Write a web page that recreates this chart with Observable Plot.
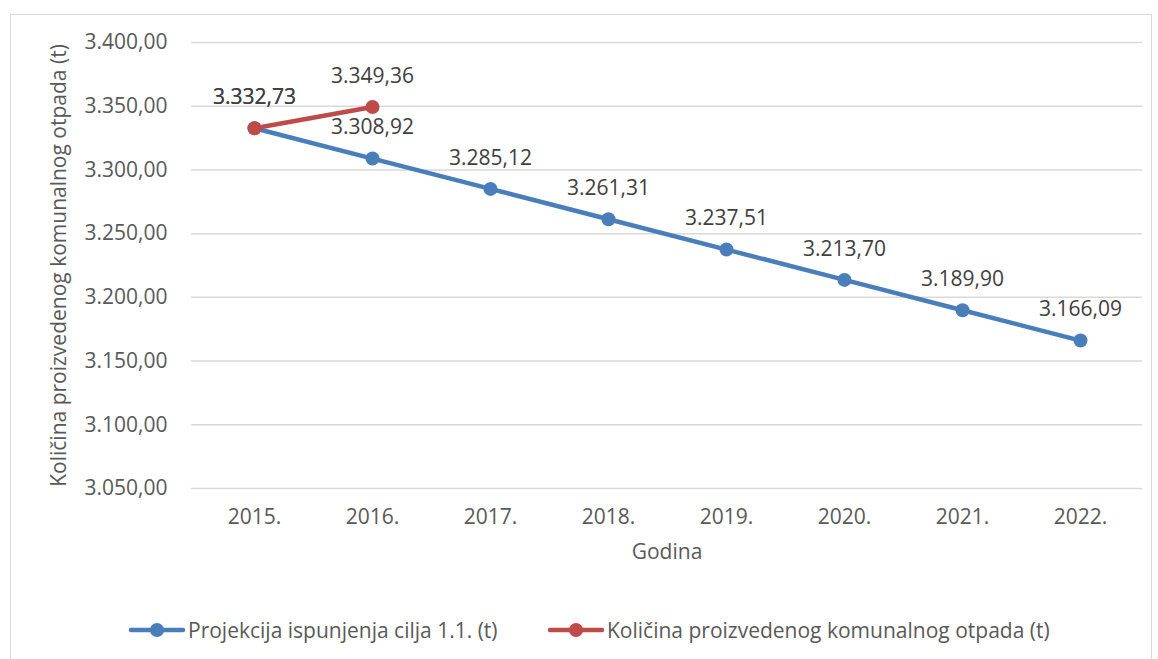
<!DOCTYPE html>
<html><head><meta charset="utf-8">
<script src="https://cdn.jsdelivr.net/npm/d3@7"></script>
<script src="https://cdn.jsdelivr.net/npm/@observablehq/plot@0.6"></script>
<style>
html,body{margin:0;padding:0;background:#fff;}
body{width:1158px;height:659px;position:relative;overflow:hidden;font-family:"Open Sans",sans-serif;}
#frame{position:absolute;left:10px;top:14px;width:1142px;height:700px;border:1.5px solid #d9d9d9;box-sizing:border-box;}
#chart{position:absolute;left:0;top:0;}
#legend{position:absolute;top:616px;left:0;width:1158px;height:28px;font-size:21px;color:#595959;}
.item{position:absolute;top:0;display:flex;align-items:center;white-space:nowrap;}
</style></head>
<body>
<div id="frame"></div>
<div id="chart"></div>
<div id="legend"></div>
<script>
const years = ["2015.","2016.","2017.","2018.","2019.","2020.","2021.","2022."];
const projekcija = [3332.73,3308.92,3285.12,3261.31,3237.51,3213.70,3189.90,3166.09];
const kolicinaYears = ["2015.","2016."];
const kolicina = [3332.73,3349.36];
const yTicks = [3050,3100,3150,3200,3250,3300,3350,3400];
const seriesNames = ["Projekcija ispunjenja cilja 1.1. (t)","Količina proizvedenog komunalnog otpada (t)"];
const colors = ["#4a7ebb","#be4b48"];

const fmt = v => v.toLocaleString("de-DE",{minimumFractionDigits:2,maximumFractionDigits:2});

const blue = years.map((y,i)=>({year:y,value:projekcija[i],s:seriesNames[0]}));
const red = kolicinaYears.map((y,i)=>({year:y,value:kolicina[i],s:seriesNames[1]}));

const plot = Plot.plot({
  width:1158, height:580,
  marginLeft:191, marginRight:16, marginTop:42, marginBottom:92,
  style:{fontFamily:"Open Sans, sans-serif", fontSize:"21px", color:"#595959", background:"transparent", overflow:"visible"},
  x:{type:"point", domain:years, padding:0.5, label:null},
  y:{domain:[3050,3400], label:null},
  marks:[
    Plot.gridY(yTicks,{stroke:"#d9d9d9", strokeOpacity:1, strokeWidth:1.5}),
    Plot.axisY(yTicks,{tickSize:0, tickPadding:24, tickFormat:fmt, fontSize:21, fill:"#595959",
      label:"Količina proizvedenog komunalnog otpada (t)", labelAnchor:"center", labelOffset:140, labelArrow:"none"}),
    Plot.axisX({tickSize:0, tickPadding:21, fontSize:21, fill:"#595959", label:"Godina", labelAnchor:"center", labelOffset:70, labelArrow:"none"}),
    Plot.line(blue,{x:"year",y:"value",stroke:colors[0],strokeWidth:4.5}),
    Plot.dot(blue,{x:"year",y:"value",fill:colors[0],r:7}),
    Plot.line(red,{x:"year",y:"value",stroke:colors[1],strokeWidth:4.5}),
    Plot.dot(red,{x:"year",y:"value",fill:colors[1],r:7}),
    Plot.text(blue,{x:"year",y:"value",text:d=>fmt(d.value),dy:-31,fill:"#404040",fontSize:21}),
    Plot.text(red,{x:"year",y:"value",text:d=>fmt(d.value),dy:-31,fill:"#404040",fontSize:21})
  ]
});
document.getElementById("chart").appendChild(plot);

const legend = document.getElementById("legend");
const lefts = [128,547];
seriesNames.forEach((n,i)=>{
  const d = document.createElement("div");
  d.className="item"; d.style.left=lefts[i]+"px";
  d.innerHTML = `<svg width="58" height="20" style="margin-right:2px"><line x1="3" x2="55" y1="10" y2="10" stroke="${colors[i]}" stroke-width="4.5" stroke-linecap="round"/><circle cx="29" cy="10" r="7" fill="${colors[i]}"/></svg><span>${n}</span>`;
  legend.appendChild(d);
});
</script>
</body></html>
